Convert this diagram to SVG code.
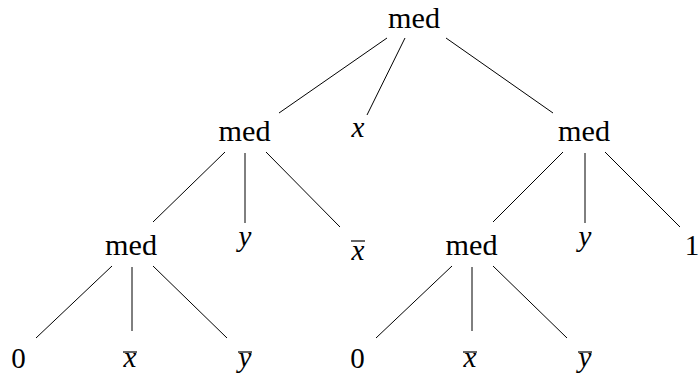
<svg xmlns="http://www.w3.org/2000/svg" width="700" height="381" viewBox="0 0 700 381">
<style>
.t{font-family:"Liberation Serif","Times New Roman",serif;font-size:29px;fill:#000;text-anchor:middle}
.i{font-style:italic}
.c line{stroke:#000;stroke-width:1}
.bar{stroke:#000;stroke-width:1.2}
</style>
<rect width="700" height="381" fill="#fff"/>
<g id="connectors" class="c">
<line x1="387" y1="38" x2="279" y2="113"/>
<line x1="405" y1="38" x2="367" y2="115"/>
<line x1="446" y1="38" x2="553" y2="113"/>
<line x1="225" y1="152" x2="153" y2="222"/>
<line x1="245" y1="153" x2="245" y2="223"/>
<line x1="266" y1="152" x2="340" y2="227"/>
<line x1="563" y1="152" x2="493" y2="222"/>
<line x1="585" y1="153" x2="585" y2="223"/>
<line x1="605" y1="152" x2="680" y2="227"/>
<line x1="112" y1="266" x2="36" y2="338"/>
<line x1="132" y1="267" x2="132" y2="331"/>
<line x1="153" y1="266" x2="227" y2="338"/>
<line x1="452" y1="266" x2="376" y2="338"/>
<line x1="472" y1="267" x2="472" y2="331"/>
<line x1="493" y1="266" x2="567" y2="338"/>
</g>
<g id="n-root"><text class="t" x="414" y="28" textLength="52" lengthAdjust="spacingAndGlyphs">med</text></g>
<g id="n-l"><text class="t" x="244.5" y="141" textLength="52" lengthAdjust="spacingAndGlyphs">med</text></g>
<g id="n-x"><text class="t i" x="358" y="137">x</text></g>
<g id="n-r"><text class="t" x="584" y="141" textLength="52" lengthAdjust="spacingAndGlyphs">med</text></g>
<g id="n-ll"><text class="t" x="131" y="255" textLength="52" lengthAdjust="spacingAndGlyphs">med</text></g>
<g id="n-ly"><text class="t i" x="245" y="246">y</text></g>
<g id="n-lxb"><text class="t i" x="358" y="260">x</text><line class="bar" x1="351" y1="241" x2="365" y2="241"/></g>
<g id="n-rl"><text class="t" x="471.5" y="255" textLength="52" lengthAdjust="spacingAndGlyphs">med</text></g>
<g id="n-ry"><text class="t i" x="585" y="246">y</text></g>
<g id="n-r1"><text class="t" x="692" y="255">1</text></g>
<g id="n-ll0"><text class="t" x="18.5" y="368">0</text></g>
<g id="n-llx"><text class="t i" x="130" y="367">x</text><line class="bar" x1="123" y1="352" x2="137" y2="352"/></g>
<g id="n-lly"><text class="t i" x="245" y="367">y</text><line class="bar" x1="238" y1="352" x2="252" y2="352"/></g>
<g id="n-rl0"><text class="t" x="357.5" y="368">0</text></g>
<g id="n-rlx"><text class="t i" x="470" y="367">x</text><line class="bar" x1="463" y1="352" x2="477" y2="352"/></g>
<g id="n-rly"><text class="t i" x="585" y="367">y</text><line class="bar" x1="578" y1="352" x2="592" y2="352"/></g>
</svg>
